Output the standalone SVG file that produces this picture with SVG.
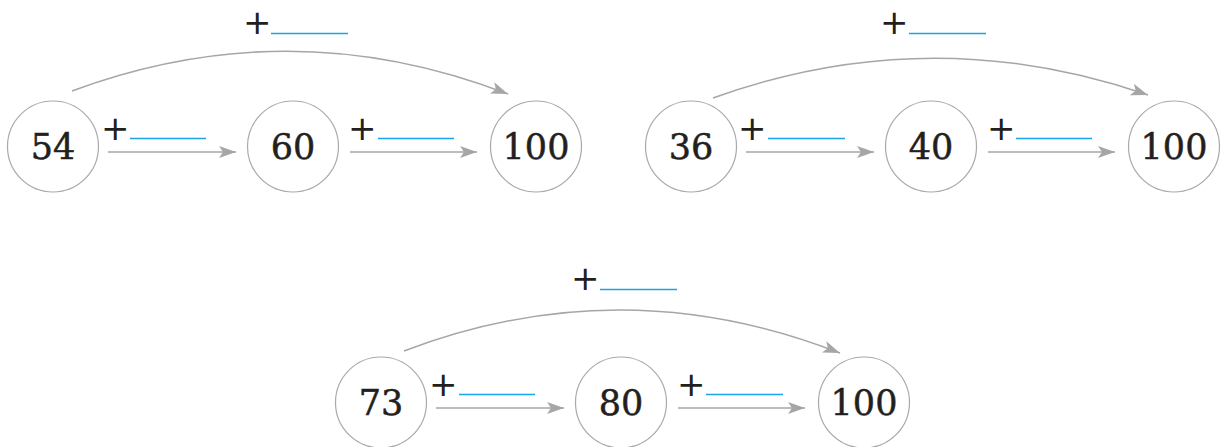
<svg xmlns="http://www.w3.org/2000/svg" width="1221" height="447" viewBox="0 0 1221 447">
  <style>
    .node circle { fill: #ffffff; stroke: #a9a9a9; stroke-width: 1.2; }
    .num { font-family: "DejaVu Serif", "Liberation Serif", serif; font-size: 35px; fill: #231f20; stroke: #231f20; stroke-width: 0.5; text-anchor: middle; }
    .plus { font-family: "DejaVu Sans", "Liberation Sans", sans-serif; font-size: 34px; fill: #231f20; }
    .blank { stroke: #1aa5e6; stroke-width: 1.6; }
    .conn { fill: none; stroke: #a6a6a6; stroke-width: 1.5; }
  </style>
  <defs>
    <marker id="arrow" markerUnits="userSpaceOnUse" markerWidth="19" markerHeight="13" viewBox="0 0 19 13" refX="17" refY="6.5" orient="auto">
      <path d="M0,0.5 L17,6.5 L0,12.5 L4,6.5 Z" fill="#a6a6a6"/>
    </marker>
  </defs>

  <!-- connectors -->
  <g id="connectors">
    <!-- row 1 -->
    <path class="conn" d="M72,91 Q290,10 508,94" marker-end="url(#arrow)"/>
    <line class="conn" x1="108" y1="152" x2="236" y2="152" marker-end="url(#arrow)"/>
    <line class="conn" x1="350" y1="152" x2="477" y2="152" marker-end="url(#arrow)"/>
    <!-- row 2 -->
    <path class="conn" d="M713,98 Q930,20 1148,95" marker-end="url(#arrow)"/>
    <line class="conn" x1="746" y1="152" x2="874" y2="152" marker-end="url(#arrow)"/>
    <line class="conn" x1="988" y1="152" x2="1115" y2="152" marker-end="url(#arrow)"/>
    <!-- row 3 -->
    <path class="conn" d="M404,351 Q622,268 840,353" marker-end="url(#arrow)"/>
    <line class="conn" x1="436" y1="408" x2="564" y2="408" marker-end="url(#arrow)"/>
    <line class="conn" x1="678" y1="408" x2="805" y2="408" marker-end="url(#arrow)"/>
  </g>

  <!-- "+ ____" labels -->
  <g id="labels">
    <text class="plus" x="243" y="34">+</text><line class="blank" x1="271" y1="33.5" x2="348" y2="33.5"/>
    <text class="plus" x="101" y="140">+</text><line class="blank" x1="130" y1="138.5" x2="206" y2="138.5"/>
    <text class="plus" x="348" y="140">+</text><line class="blank" x1="378" y1="138.5" x2="454" y2="138.5"/>

    <text class="plus" x="880" y="34">+</text><line class="blank" x1="909" y1="33.5" x2="986" y2="33.5"/>
    <text class="plus" x="738" y="140">+</text><line class="blank" x1="768" y1="138.5" x2="845" y2="138.5"/>
    <text class="plus" x="987" y="140">+</text><line class="blank" x1="1016" y1="138.5" x2="1092" y2="138.5"/>

    <text class="plus" x="571" y="290">+</text><line class="blank" x1="600" y1="289.5" x2="677" y2="289.5"/>
    <text class="plus" x="429" y="396">+</text><line class="blank" x1="459" y1="394.5" x2="535" y2="394.5"/>
    <text class="plus" x="677" y="396">+</text><line class="blank" x1="706" y1="394.5" x2="783" y2="394.5"/>
  </g>

  <!-- row 1 nodes -->
  <g id="n54" class="node"><circle cx="53" cy="146.5" r="45.5"/><text class="num" x="53" y="159">54</text></g>
  <g id="n60" class="node"><circle cx="293" cy="146.5" r="45.5"/><text class="num" x="293" y="159">60</text></g>
  <g id="n100a" class="node"><circle cx="536" cy="146.5" r="45.5"/><text class="num" x="536" y="159">100</text></g>

  <!-- row 2 nodes -->
  <g id="n36" class="node"><circle cx="691" cy="146.5" r="45.5"/><text class="num" x="691" y="159">36</text></g>
  <g id="n40" class="node"><circle cx="931" cy="146.5" r="45.5"/><text class="num" x="931" y="159">40</text></g>
  <g id="n100b" class="node"><circle cx="1174" cy="146.5" r="45.5"/><text class="num" x="1174" y="159">100</text></g>

  <!-- row 3 nodes -->
  <g id="n73" class="node"><circle cx="381" cy="402.5" r="45.5"/><text class="num" x="381" y="415">73</text></g>
  <g id="n80" class="node"><circle cx="621" cy="402.5" r="45.5"/><text class="num" x="621" y="415">80</text></g>
  <g id="n100c" class="node"><circle cx="864" cy="402.5" r="45.5"/><text class="num" x="864" y="415">100</text></g>
</svg>
